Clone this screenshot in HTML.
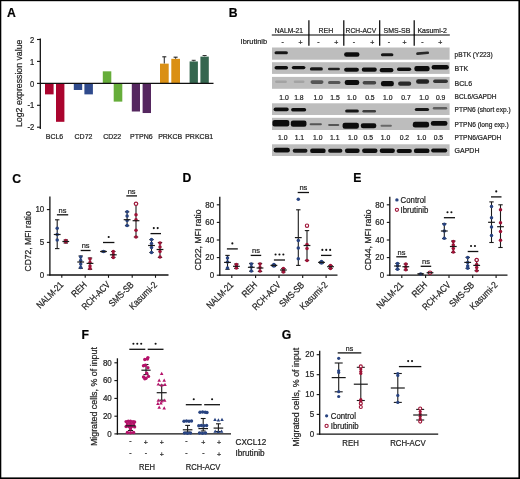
<!DOCTYPE html>
<html><head><meta charset="utf-8"><style>
html,body{margin:0;padding:0;background:#fff;}
svg{display:block;filter:blur(0.3px);}
text{font-family:"Liberation Sans", sans-serif;stroke:#222;stroke-width:0.22px;}
</style></head><body>
<svg width="520" height="479" viewBox="0 0 520 479" fill="#222">
<rect x="0" y="0" width="520" height="479" fill="#000"/>
<rect x="1.3" y="1.2" width="517.1" height="476.2" fill="#fff"/>
<text x="7.00" y="16.90" font-size="12.2" fill="#000" font-weight="bold">A</text>
<line x1="40.30" y1="38.50" x2="40.30" y2="129.00" stroke="#111" stroke-width="1.3"/>
<line x1="37.00" y1="39.50" x2="40.30" y2="39.50" stroke="#111" stroke-width="1.1"/>
<text x="34.20" y="42.60" font-size="8.21" text-anchor="end" textLength="4.23" lengthAdjust="spacingAndGlyphs">2</text>
<line x1="37.00" y1="61.40" x2="40.30" y2="61.40" stroke="#111" stroke-width="1.1"/>
<text x="34.20" y="64.50" font-size="8.21" text-anchor="end" textLength="4.23" lengthAdjust="spacingAndGlyphs">1</text>
<line x1="37.00" y1="83.40" x2="40.30" y2="83.40" stroke="#111" stroke-width="1.1"/>
<text x="34.20" y="86.50" font-size="8.21" text-anchor="end" textLength="4.23" lengthAdjust="spacingAndGlyphs">0</text>
<line x1="37.00" y1="105.30" x2="40.30" y2="105.30" stroke="#111" stroke-width="1.1"/>
<text x="34.20" y="108.40" font-size="8.21" text-anchor="end" textLength="6.76" lengthAdjust="spacingAndGlyphs">-1</text>
<line x1="37.00" y1="127.20" x2="40.30" y2="127.20" stroke="#111" stroke-width="1.1"/>
<text x="34.20" y="130.30" font-size="8.21" text-anchor="end" textLength="6.76" lengthAdjust="spacingAndGlyphs">-2</text>
<text x="21.70" y="83.30" font-size="9.5" text-anchor="middle" transform="rotate(-90 21.70 83.30)" textLength="87.3" lengthAdjust="spacingAndGlyphs">Log2 expression value</text>
<rect x="45.00" y="83.40" width="8.60" height="10.97" fill="#aa042e"/>
<rect x="56.00" y="83.40" width="8.40" height="38.41" fill="#aa042e"/>
<rect x="73.80" y="83.40" width="8.40" height="6.58" fill="#2f4a8c"/>
<rect x="84.40" y="83.40" width="8.50" height="10.97" fill="#2f4a8c"/>
<rect x="102.80" y="71.33" width="8.50" height="12.07" fill="#66ad3a"/>
<rect x="113.70" y="83.40" width="8.60" height="18.22" fill="#66ad3a"/>
<rect x="131.80" y="83.40" width="8.20" height="28.10" fill="#55275f"/>
<rect x="142.60" y="83.40" width="8.40" height="29.63" fill="#55275f"/>
<rect x="160.00" y="63.65" width="8.70" height="19.75" fill="#da9015"/>
<rect x="171.30" y="58.82" width="8.70" height="24.58" fill="#da9015"/>
<rect x="189.60" y="61.45" width="8.30" height="21.95" fill="#35664f"/>
<rect x="200.40" y="56.62" width="8.40" height="26.78" fill="#35664f"/>
<line x1="164.30" y1="63.50" x2="164.30" y2="56.80" stroke="#333" stroke-width="1.1"/>
<line x1="162.30" y1="56.80" x2="166.30" y2="56.80" stroke="#333" stroke-width="1.2"/>
<line x1="175.60" y1="58.70" x2="175.60" y2="57.00" stroke="#333" stroke-width="1.1"/>
<line x1="173.60" y1="57.20" x2="177.60" y2="57.20" stroke="#333" stroke-width="1.2"/>
<line x1="193.70" y1="61.20" x2="193.70" y2="60.20" stroke="#333" stroke-width="1.1"/>
<line x1="191.70" y1="60.30" x2="195.70" y2="60.30" stroke="#333" stroke-width="1.0"/>
<line x1="204.60" y1="56.30" x2="204.60" y2="55.40" stroke="#333" stroke-width="1.1"/>
<line x1="202.60" y1="55.50" x2="206.60" y2="55.50" stroke="#333" stroke-width="1.0"/>
<line x1="40.30" y1="83.40" x2="213.50" y2="83.40" stroke="#111" stroke-width="1.3"/>
<text x="54.50" y="139.30" font-size="7.56" text-anchor="middle" textLength="17.51" lengthAdjust="spacingAndGlyphs">BCL6</text>
<text x="83.50" y="139.30" font-size="7.56" text-anchor="middle" textLength="17.9" lengthAdjust="spacingAndGlyphs">CD72</text>
<text x="112.20" y="139.30" font-size="7.56" text-anchor="middle" textLength="17.9" lengthAdjust="spacingAndGlyphs">CD22</text>
<text x="141.30" y="139.30" font-size="7.56" text-anchor="middle" textLength="22.56" lengthAdjust="spacingAndGlyphs">PTPN6</text>
<text x="170.20" y="139.30" font-size="7.56" text-anchor="middle" textLength="24.12" lengthAdjust="spacingAndGlyphs">PRKCB</text>
<text x="199.20" y="139.30" font-size="7.56" text-anchor="middle" textLength="28.01" lengthAdjust="spacingAndGlyphs">PRKCB1</text>
<text x="228.70" y="16.90" font-size="12.2" fill="#000" font-weight="bold">B</text>
<line x1="271.80" y1="35.00" x2="449.80" y2="35.00" stroke="#000" stroke-width="1.2"/>
<line x1="308.90" y1="20.30" x2="308.90" y2="45.80" stroke="#000" stroke-width="1.2"/>
<line x1="343.80" y1="20.30" x2="343.80" y2="45.80" stroke="#000" stroke-width="1.2"/>
<line x1="379.70" y1="20.30" x2="379.70" y2="45.80" stroke="#000" stroke-width="1.2"/>
<line x1="414.20" y1="20.30" x2="414.20" y2="45.80" stroke="#000" stroke-width="1.2"/>
<text x="288.80" y="32.50" font-size="7.56" text-anchor="middle" textLength="28.2" lengthAdjust="spacingAndGlyphs">NALM-21</text>
<text x="325.80" y="32.50" font-size="7.56" text-anchor="middle" textLength="14.78" lengthAdjust="spacingAndGlyphs">REH</text>
<text x="360.90" y="32.50" font-size="7.56" text-anchor="middle" textLength="30.6" lengthAdjust="spacingAndGlyphs">RCH-ACV</text>
<text x="396.90" y="32.50" font-size="7.56" text-anchor="middle" textLength="26.84" lengthAdjust="spacingAndGlyphs">SMS-SB</text>
<text x="432.20" y="32.50" font-size="7.56" text-anchor="middle" textLength="29.57" lengthAdjust="spacingAndGlyphs">Kasumi-2</text>
<text x="240.60" y="43.90" font-size="7.88" textLength="26.6" lengthAdjust="spacingAndGlyphs">Ibrutinib</text>
<text x="282.60" y="44.10" font-size="7.56" text-anchor="middle" textLength="2.33" lengthAdjust="spacingAndGlyphs">-</text>
<text x="300.60" y="45.20" font-size="7.56" text-anchor="middle" textLength="4.09" lengthAdjust="spacingAndGlyphs">+</text>
<text x="318.30" y="44.10" font-size="7.56" text-anchor="middle" textLength="2.33" lengthAdjust="spacingAndGlyphs">-</text>
<text x="336.40" y="45.20" font-size="7.56" text-anchor="middle" textLength="4.09" lengthAdjust="spacingAndGlyphs">+</text>
<text x="353.80" y="44.10" font-size="7.56" text-anchor="middle" textLength="2.33" lengthAdjust="spacingAndGlyphs">-</text>
<text x="372.20" y="45.20" font-size="7.56" text-anchor="middle" textLength="4.09" lengthAdjust="spacingAndGlyphs">+</text>
<text x="388.80" y="44.10" font-size="7.56" text-anchor="middle" textLength="2.33" lengthAdjust="spacingAndGlyphs">-</text>
<text x="404.60" y="45.20" font-size="7.56" text-anchor="middle" textLength="4.09" lengthAdjust="spacingAndGlyphs">+</text>
<text x="422.50" y="44.10" font-size="7.56" text-anchor="middle" textLength="2.33" lengthAdjust="spacingAndGlyphs">-</text>
<text x="440.30" y="45.20" font-size="7.56" text-anchor="middle" textLength="4.09" lengthAdjust="spacingAndGlyphs">+</text>
<rect x="272.00" y="47.50" width="177.60" height="12.20" fill="#bdbdbd"/>
<rect x="272.00" y="62.20" width="177.60" height="11.70" fill="#bdbdbd"/>
<rect x="272.00" y="76.90" width="177.60" height="11.90" fill="#bdbdbd"/>
<rect x="272.00" y="103.30" width="177.60" height="11.70" fill="#bdbdbd"/>
<rect x="272.00" y="117.80" width="177.60" height="12.20" fill="#bdbdbd"/>
<rect x="272.00" y="144.30" width="177.60" height="11.70" fill="#bdbdbd"/>
<defs><filter id="bl" x="-20%" y="-100%" width="140%" height="300%"><feGaussianBlur stdDeviation="0.75"/></filter></defs>
<g filter="url(#bl)">
<rect x="274.5" y="51.25" width="13.4" height="3.1" rx="1.6" fill="rgb(25,25,25)"/>
<rect x="344.1" y="52.30" width="15.4" height="4.4" rx="2.2" fill="rgb(17,17,17)"/>
<rect x="380.9" y="53.25" width="12.5" height="3.1" rx="1.6" fill="rgb(25,25,25)"/>
<rect x="416.1" y="51.90" width="13.0" height="2.6" rx="1.3" fill="rgb(42,42,42)" transform="rotate(-5 422.6 53.2)"/>
<rect x="274.5" y="66.00" width="13.6" height="3.6" rx="1.8" fill="rgb(17,17,17)"/>
<rect x="291.8" y="65.90" width="13.6" height="3.4" rx="1.7" fill="rgb(17,17,17)"/>
<rect x="309.9" y="67.35" width="13.0" height="3.1" rx="1.6" fill="rgb(25,25,25)"/>
<rect x="328.0" y="67.70" width="11.9" height="2.6" rx="1.3" fill="rgb(34,34,34)"/>
<rect x="344.1" y="67.75" width="14.8" height="4.1" rx="2.0" fill="rgb(17,17,17)"/>
<rect x="361.8" y="67.55" width="15.0" height="4.1" rx="2.0" fill="rgb(17,17,17)"/>
<rect x="379.7" y="68.05" width="13.7" height="4.1" rx="2.0" fill="rgb(17,17,17)"/>
<rect x="397.0" y="67.40" width="14.2" height="3.6" rx="1.8" fill="rgb(17,17,17)"/>
<rect x="414.3" y="66.05" width="15.4" height="5.1" rx="2.2" fill="rgb(17,17,17)"/>
<rect x="431.6" y="64.90" width="17.3" height="4.6" rx="2.2" fill="rgb(17,17,17)"/>
<rect x="275.1" y="80.40" width="11.8" height="2.6" rx="1.3" fill="rgb(163,163,163)"/>
<rect x="293.7" y="80.40" width="10.8" height="2.6" rx="1.3" fill="rgb(163,163,163)"/>
<rect x="310.5" y="80.30" width="13.0" height="3.6" rx="1.8" fill="rgb(85,85,85)"/>
<rect x="328.0" y="80.95" width="12.5" height="3.1" rx="1.6" fill="rgb(85,85,85)"/>
<rect x="344.7" y="79.95" width="14.6" height="5.1" rx="2.2" fill="rgb(17,17,17)"/>
<rect x="362.6" y="81.00" width="13.6" height="3.6" rx="1.8" fill="rgb(68,68,68)"/>
<rect x="380.9" y="81.05" width="13.0" height="5.1" rx="2.2" fill="rgb(17,17,17)"/>
<rect x="398.1" y="81.55" width="13.1" height="4.1" rx="2.0" fill="rgb(42,42,42)"/>
<rect x="416.1" y="79.20" width="13.0" height="4.6" rx="2.2" fill="rgb(34,34,34)"/>
<rect x="433.1" y="79.50" width="14.8" height="3.6" rx="1.8" fill="rgb(51,51,51)"/>
<rect x="273.6" y="107.60" width="15.1" height="3.6" rx="1.8" fill="rgb(17,17,17)"/>
<rect x="291.1" y="108.10" width="15.1" height="3.4" rx="1.7" fill="rgb(17,17,17)"/>
<rect x="345.1" y="109.45" width="13.8" height="3.1" rx="1.6" fill="rgb(25,25,25)"/>
<rect x="362.4" y="110.00" width="13.6" height="2.6" rx="1.3" fill="rgb(60,60,60)"/>
<rect x="414.8" y="107.95" width="14.3" height="3.1" rx="1.6" fill="rgb(25,25,25)"/>
<rect x="432.8" y="107.00" width="14.4" height="2.4" rx="1.2" fill="rgb(94,94,94)"/>
<rect x="272.4" y="119.90" width="16.9" height="6.6" rx="2.2" fill="rgb(17,17,17)"/>
<rect x="290.8" y="120.55" width="15.7" height="6.1" rx="2.2" fill="rgb(17,17,17)"/>
<rect x="309.6" y="123.15" width="12.3" height="2.1" rx="1.1" fill="rgb(85,85,85)"/>
<rect x="328.1" y="123.95" width="11.2" height="2.1" rx="1.1" fill="rgb(85,85,85)"/>
<rect x="342.6" y="122.65" width="16.3" height="6.1" rx="2.2" fill="rgb(17,17,17)"/>
<rect x="360.8" y="123.15" width="15.5" height="5.1" rx="2.2" fill="rgb(17,17,17)"/>
<rect x="380.5" y="124.75" width="11.4" height="2.1" rx="1.1" fill="rgb(103,103,103)"/>
<rect x="412.8" y="121.80" width="16.3" height="5.6" rx="2.2" fill="rgb(17,17,17)"/>
<rect x="430.8" y="121.10" width="16.7" height="4.6" rx="2.2" fill="rgb(17,17,17)"/>
<rect x="273.6" y="147.80" width="16.3" height="4.6" rx="2.2" fill="rgb(17,17,17)"/>
<rect x="292.7" y="148.75" width="14.8" height="4.1" rx="2.0" fill="rgb(25,25,25)"/>
<rect x="310.1" y="148.50" width="15.6" height="4.6" rx="2.2" fill="rgb(17,17,17)"/>
<rect x="328.1" y="148.75" width="14.3" height="4.1" rx="2.0" fill="rgb(25,25,25)"/>
<rect x="344.9" y="148.60" width="14.8" height="4.4" rx="2.2" fill="rgb(17,17,17)"/>
<rect x="362.1" y="148.60" width="15.4" height="4.4" rx="2.2" fill="rgb(17,17,17)"/>
<rect x="379.7" y="148.60" width="15.2" height="4.4" rx="2.2" fill="rgb(17,17,17)"/>
<rect x="396.6" y="148.95" width="15.3" height="4.1" rx="2.0" fill="rgb(17,17,17)"/>
<rect x="413.9" y="148.50" width="15.6" height="4.6" rx="2.2" fill="rgb(17,17,17)"/>
<rect x="431.1" y="148.45" width="16.1" height="4.1" rx="2.0" fill="rgb(17,17,17)"/>
</g>
<text x="454.60" y="57.40" font-size="7.56" textLength="38.0" lengthAdjust="spacingAndGlyphs">pBTK (Y223)</text>
<text x="454.60" y="71.40" font-size="7.56" textLength="13.61" lengthAdjust="spacingAndGlyphs">BTK</text>
<text x="454.60" y="86.00" font-size="7.56" textLength="17.51" lengthAdjust="spacingAndGlyphs">BCL6</text>
<text x="454.60" y="98.90" font-size="7.56" textLength="42.0" lengthAdjust="spacingAndGlyphs">BCL6/GAPDH</text>
<text x="454.60" y="112.20" font-size="7.56" textLength="56.0" lengthAdjust="spacingAndGlyphs">PTPN6 (short exp.)</text>
<text x="454.60" y="126.90" font-size="7.56" textLength="54.2" lengthAdjust="spacingAndGlyphs">PTPN6 (long exp.)</text>
<text x="454.60" y="140.30" font-size="7.56" textLength="46.8" lengthAdjust="spacingAndGlyphs">PTPN6/GAPDH</text>
<text x="454.60" y="152.90" font-size="7.56" textLength="24.89" lengthAdjust="spacingAndGlyphs">GAPDH</text>
<text x="284.00" y="99.60" font-size="7.34" text-anchor="middle" textLength="9.45" lengthAdjust="spacingAndGlyphs">1.0</text>
<text x="298.90" y="99.60" font-size="7.34" text-anchor="middle" textLength="9.45" lengthAdjust="spacingAndGlyphs">1.8</text>
<text x="318.10" y="99.60" font-size="7.34" text-anchor="middle" textLength="9.45" lengthAdjust="spacingAndGlyphs">1.0</text>
<text x="335.00" y="99.60" font-size="7.34" text-anchor="middle" textLength="9.45" lengthAdjust="spacingAndGlyphs">1.5</text>
<text x="351.80" y="99.60" font-size="7.34" text-anchor="middle" textLength="9.45" lengthAdjust="spacingAndGlyphs">1.0</text>
<text x="369.90" y="99.60" font-size="7.34" text-anchor="middle" textLength="9.45" lengthAdjust="spacingAndGlyphs">0.5</text>
<text x="387.70" y="99.60" font-size="7.34" text-anchor="middle" textLength="9.45" lengthAdjust="spacingAndGlyphs">1.0</text>
<text x="406.00" y="99.60" font-size="7.34" text-anchor="middle" textLength="9.45" lengthAdjust="spacingAndGlyphs">0.7</text>
<text x="424.00" y="99.60" font-size="7.34" text-anchor="middle" textLength="9.45" lengthAdjust="spacingAndGlyphs">1.0</text>
<text x="440.60" y="99.60" font-size="7.34" text-anchor="middle" textLength="9.45" lengthAdjust="spacingAndGlyphs">0.9</text>
<text x="282.80" y="140.00" font-size="7.34" text-anchor="middle" textLength="9.45" lengthAdjust="spacingAndGlyphs">1.0</text>
<text x="299.40" y="140.00" font-size="7.34" text-anchor="middle" textLength="9.45" lengthAdjust="spacingAndGlyphs">1.1</text>
<text x="317.70" y="140.00" font-size="7.34" text-anchor="middle" textLength="9.45" lengthAdjust="spacingAndGlyphs">1.0</text>
<text x="334.80" y="140.00" font-size="7.34" text-anchor="middle" textLength="9.45" lengthAdjust="spacingAndGlyphs">1.1</text>
<text x="352.80" y="140.00" font-size="7.34" text-anchor="middle" textLength="9.45" lengthAdjust="spacingAndGlyphs">1.0</text>
<text x="368.20" y="140.00" font-size="7.34" text-anchor="middle" textLength="9.45" lengthAdjust="spacingAndGlyphs">0.5</text>
<text x="385.50" y="140.00" font-size="7.34" text-anchor="middle" textLength="9.45" lengthAdjust="spacingAndGlyphs">1.0</text>
<text x="404.40" y="140.00" font-size="7.34" text-anchor="middle" textLength="9.45" lengthAdjust="spacingAndGlyphs">0.2</text>
<text x="421.50" y="140.00" font-size="7.34" text-anchor="middle" textLength="9.45" lengthAdjust="spacingAndGlyphs">1.0</text>
<text x="438.40" y="140.00" font-size="7.34" text-anchor="middle" textLength="9.45" lengthAdjust="spacingAndGlyphs">0.5</text>
<text x="12.30" y="182.50" font-size="12.2" fill="#000" font-weight="bold">C</text>
<line x1="49.90" y1="196.50" x2="49.90" y2="275.60" stroke="#111" stroke-width="1.3"/>
<line x1="49.30" y1="275.00" x2="168.50" y2="275.00" stroke="#111" stroke-width="1.3"/>
<line x1="46.90" y1="275.00" x2="49.90" y2="275.00" stroke="#111" stroke-width="1.1"/>
<text x="44.30" y="277.70" font-size="8.64" text-anchor="end" textLength="4.45" lengthAdjust="spacingAndGlyphs">0</text>
<line x1="46.90" y1="242.40" x2="49.90" y2="242.40" stroke="#111" stroke-width="1.1"/>
<text x="44.30" y="245.10" font-size="8.64" text-anchor="end" textLength="4.45" lengthAdjust="spacingAndGlyphs">5</text>
<line x1="46.90" y1="209.60" x2="49.90" y2="209.60" stroke="#111" stroke-width="1.1"/>
<text x="44.30" y="212.30" font-size="8.64" text-anchor="end" textLength="8.9" lengthAdjust="spacingAndGlyphs">10</text>
<line x1="61.80" y1="275.00" x2="61.80" y2="277.80" stroke="#111" stroke-width="1.1"/>
<line x1="85.20" y1="275.00" x2="85.20" y2="277.80" stroke="#111" stroke-width="1.1"/>
<line x1="108.50" y1="275.00" x2="108.50" y2="277.80" stroke="#111" stroke-width="1.1"/>
<line x1="132.20" y1="275.00" x2="132.20" y2="277.80" stroke="#111" stroke-width="1.1"/>
<line x1="155.50" y1="275.00" x2="155.50" y2="277.80" stroke="#111" stroke-width="1.1"/>
<text x="30.70" y="241.40" font-size="9.5" text-anchor="middle" transform="rotate(-90 30.70 241.40)" textLength="60.2" lengthAdjust="spacingAndGlyphs">CD72, MFI ratio</text>
<text x="64.00" y="285.40" font-size="9.4" text-anchor="end" transform="rotate(-45 64.00 285.40)" textLength="33.5" lengthAdjust="spacingAndGlyphs">NALM-21</text>
<text x="87.40" y="285.40" font-size="9.4" text-anchor="end" transform="rotate(-45 87.40 285.40)" textLength="17.5" lengthAdjust="spacingAndGlyphs">REH</text>
<text x="110.70" y="285.40" font-size="9.4" text-anchor="end" transform="rotate(-45 110.70 285.40)" textLength="35.6" lengthAdjust="spacingAndGlyphs">RCH-ACV</text>
<text x="134.40" y="285.40" font-size="9.4" text-anchor="end" transform="rotate(-45 134.40 285.40)" textLength="30.9" lengthAdjust="spacingAndGlyphs">SMS-SB</text>
<text x="157.70" y="285.40" font-size="9.4" text-anchor="end" transform="rotate(-45 157.70 285.40)" textLength="35.0" lengthAdjust="spacingAndGlyphs">Kasumi-2</text>
<line x1="57.20" y1="219.80" x2="57.20" y2="248.60" stroke="#1a1a1a" stroke-width="1.1"/>
<line x1="55.00" y1="219.80" x2="59.40" y2="219.80" stroke="#1a1a1a" stroke-width="1.1"/>
<line x1="55.00" y1="248.60" x2="59.40" y2="248.60" stroke="#1a1a1a" stroke-width="1.1"/>
<circle cx="57.20" cy="228.30" r="1.75" fill="#284380"/>
<circle cx="57.20" cy="234.50" r="1.75" fill="#284380"/>
<circle cx="57.20" cy="239.90" r="1.75" fill="#284380"/>
<line x1="53.80" y1="234.50" x2="60.60" y2="234.50" stroke="#1a1a1a" stroke-width="1.2"/>
<line x1="65.80" y1="240.00" x2="65.80" y2="243.00" stroke="#1a1a1a" stroke-width="1.1"/>
<line x1="63.60" y1="240.00" x2="68.00" y2="240.00" stroke="#1a1a1a" stroke-width="1.1"/>
<line x1="63.60" y1="243.00" x2="68.00" y2="243.00" stroke="#1a1a1a" stroke-width="1.1"/>
<circle cx="65.80" cy="240.50" r="1.75" fill="#9e1236"/>
<circle cx="65.80" cy="242.00" r="1.75" fill="#9e1236"/>
<line x1="62.40" y1="241.50" x2="69.20" y2="241.50" stroke="#1a1a1a" stroke-width="1.2"/>
<line x1="80.70" y1="256.00" x2="80.70" y2="268.30" stroke="#1a1a1a" stroke-width="1.1"/>
<line x1="78.50" y1="256.00" x2="82.90" y2="256.00" stroke="#1a1a1a" stroke-width="1.1"/>
<line x1="78.50" y1="268.30" x2="82.90" y2="268.30" stroke="#1a1a1a" stroke-width="1.1"/>
<circle cx="80.70" cy="257.00" r="1.75" fill="#284380"/>
<circle cx="80.70" cy="260.50" r="1.75" fill="#284380"/>
<circle cx="80.70" cy="264.00" r="1.75" fill="#284380"/>
<circle cx="80.70" cy="267.50" r="1.75" fill="#284380"/>
<line x1="77.30" y1="262.00" x2="84.10" y2="262.00" stroke="#1a1a1a" stroke-width="1.2"/>
<line x1="90.00" y1="258.00" x2="90.00" y2="269.30" stroke="#1a1a1a" stroke-width="1.1"/>
<line x1="87.80" y1="258.00" x2="92.20" y2="258.00" stroke="#1a1a1a" stroke-width="1.1"/>
<line x1="87.80" y1="269.30" x2="92.20" y2="269.30" stroke="#1a1a1a" stroke-width="1.1"/>
<circle cx="90.00" cy="259.00" r="1.75" fill="#9e1236"/>
<circle cx="90.00" cy="262.50" r="1.75" fill="#9e1236"/>
<circle cx="90.00" cy="266.00" r="1.75" fill="#9e1236"/>
<circle cx="90.00" cy="268.50" r="1.75" fill="#9e1236"/>
<line x1="86.60" y1="263.40" x2="93.40" y2="263.40" stroke="#1a1a1a" stroke-width="1.2"/>
<line x1="103.50" y1="251.00" x2="103.50" y2="252.00" stroke="#1a1a1a" stroke-width="1.1"/>
<line x1="101.30" y1="251.00" x2="105.70" y2="251.00" stroke="#1a1a1a" stroke-width="1.1"/>
<line x1="101.30" y1="252.00" x2="105.70" y2="252.00" stroke="#1a1a1a" stroke-width="1.1"/>
<circle cx="103.50" cy="251.50" r="1.75" fill="#284380"/>
<line x1="100.10" y1="251.50" x2="106.90" y2="251.50" stroke="#1a1a1a" stroke-width="1.2"/>
<line x1="113.30" y1="251.50" x2="113.30" y2="257.40" stroke="#1a1a1a" stroke-width="1.1"/>
<line x1="111.10" y1="251.50" x2="115.50" y2="251.50" stroke="#1a1a1a" stroke-width="1.1"/>
<line x1="111.10" y1="257.40" x2="115.50" y2="257.40" stroke="#1a1a1a" stroke-width="1.1"/>
<circle cx="113.30" cy="251.50" r="1.75" fill="#9e1236"/>
<circle cx="113.30" cy="254.50" r="1.75" fill="#9e1236"/>
<circle cx="113.30" cy="257.40" r="1.75" fill="#9e1236"/>
<line x1="109.90" y1="254.80" x2="116.70" y2="254.80" stroke="#1a1a1a" stroke-width="1.2"/>
<line x1="127.10" y1="211.80" x2="127.10" y2="225.70" stroke="#1a1a1a" stroke-width="1.1"/>
<line x1="124.90" y1="211.80" x2="129.30" y2="211.80" stroke="#1a1a1a" stroke-width="1.1"/>
<line x1="124.90" y1="225.70" x2="129.30" y2="225.70" stroke="#1a1a1a" stroke-width="1.1"/>
<circle cx="127.10" cy="211.80" r="1.75" fill="#284380"/>
<circle cx="127.10" cy="216.00" r="1.75" fill="#284380"/>
<circle cx="127.10" cy="220.50" r="1.75" fill="#284380"/>
<circle cx="127.10" cy="225.50" r="1.75" fill="#284380"/>
<line x1="123.70" y1="219.70" x2="130.50" y2="219.70" stroke="#1a1a1a" stroke-width="1.2"/>
<line x1="136.00" y1="203.80" x2="136.00" y2="237.00" stroke="#1a1a1a" stroke-width="1.1"/>
<line x1="133.80" y1="203.80" x2="138.20" y2="203.80" stroke="#1a1a1a" stroke-width="1.1"/>
<line x1="133.80" y1="237.00" x2="138.20" y2="237.00" stroke="#1a1a1a" stroke-width="1.1"/>
<circle cx="136.00" cy="214.80" r="1.75" fill="#9e1236"/>
<circle cx="136.00" cy="219.70" r="1.75" fill="#9e1236"/>
<circle cx="136.00" cy="230.20" r="1.75" fill="#9e1236"/>
<circle cx="136.00" cy="237.00" r="1.75" fill="#9e1236"/>
<circle cx="136.00" cy="203.80" r="1.6624999999999999" fill="#fff" stroke="#9e1236" stroke-width="1.1"/>
<line x1="132.60" y1="220.70" x2="139.40" y2="220.70" stroke="#1a1a1a" stroke-width="1.2"/>
<line x1="151.50" y1="239.60" x2="151.50" y2="252.50" stroke="#1a1a1a" stroke-width="1.1"/>
<line x1="149.30" y1="239.60" x2="153.70" y2="239.60" stroke="#1a1a1a" stroke-width="1.1"/>
<line x1="149.30" y1="252.50" x2="153.70" y2="252.50" stroke="#1a1a1a" stroke-width="1.1"/>
<circle cx="151.50" cy="239.60" r="1.75" fill="#284380"/>
<circle cx="151.50" cy="243.50" r="1.75" fill="#284380"/>
<circle cx="151.50" cy="247.50" r="1.75" fill="#284380"/>
<circle cx="151.50" cy="252.50" r="1.75" fill="#284380"/>
<line x1="148.10" y1="245.50" x2="154.90" y2="245.50" stroke="#1a1a1a" stroke-width="1.2"/>
<line x1="160.00" y1="242.50" x2="160.00" y2="257.40" stroke="#1a1a1a" stroke-width="1.1"/>
<line x1="157.80" y1="242.50" x2="162.20" y2="242.50" stroke="#1a1a1a" stroke-width="1.1"/>
<line x1="157.80" y1="257.40" x2="162.20" y2="257.40" stroke="#1a1a1a" stroke-width="1.1"/>
<circle cx="160.00" cy="243.00" r="1.75" fill="#9e1236"/>
<circle cx="160.00" cy="247.00" r="1.75" fill="#9e1236"/>
<circle cx="160.00" cy="251.50" r="1.75" fill="#9e1236"/>
<circle cx="160.00" cy="257.00" r="1.75" fill="#9e1236"/>
<line x1="156.60" y1="249.50" x2="163.40" y2="249.50" stroke="#1a1a1a" stroke-width="1.2"/>
<line x1="56.90" y1="214.80" x2="68.20" y2="214.80" stroke="#111" stroke-width="1.3"/>
<text x="62.55" y="212.60" font-size="8.1" text-anchor="middle" textLength="7.92" lengthAdjust="spacingAndGlyphs">ns</text>
<line x1="80.70" y1="250.50" x2="90.60" y2="250.50" stroke="#111" stroke-width="1.3"/>
<text x="85.65" y="248.30" font-size="8.1" text-anchor="middle" textLength="7.92" lengthAdjust="spacingAndGlyphs">ns</text>
<line x1="103.00" y1="242.50" x2="114.40" y2="242.50" stroke="#111" stroke-width="1.3"/>
<circle cx="108.70" cy="237.00" r="1.05" fill="#111"/>
<line x1="126.30" y1="195.90" x2="137.00" y2="195.90" stroke="#111" stroke-width="1.3"/>
<text x="131.65" y="193.70" font-size="8.1" text-anchor="middle" textLength="7.92" lengthAdjust="spacingAndGlyphs">ns</text>
<line x1="150.50" y1="233.60" x2="161.00" y2="233.60" stroke="#111" stroke-width="1.3"/>
<circle cx="153.80" cy="228.10" r="1.05" fill="#111"/>
<circle cx="157.70" cy="228.10" r="1.05" fill="#111"/>
<text x="182.50" y="182.00" font-size="12.2" fill="#000" font-weight="bold">D</text>
<line x1="219.80" y1="196.80" x2="219.80" y2="275.80" stroke="#111" stroke-width="1.3"/>
<line x1="219.20" y1="275.20" x2="337.50" y2="275.20" stroke="#111" stroke-width="1.3"/>
<line x1="216.80" y1="275.20" x2="219.80" y2="275.20" stroke="#111" stroke-width="1.1"/>
<text x="214.20" y="277.90" font-size="8.64" text-anchor="end" textLength="4.45" lengthAdjust="spacingAndGlyphs">0</text>
<line x1="216.80" y1="257.60" x2="219.80" y2="257.60" stroke="#111" stroke-width="1.1"/>
<text x="214.20" y="260.30" font-size="8.64" text-anchor="end" textLength="8.9" lengthAdjust="spacingAndGlyphs">20</text>
<line x1="216.80" y1="240.00" x2="219.80" y2="240.00" stroke="#111" stroke-width="1.1"/>
<text x="214.20" y="242.70" font-size="8.64" text-anchor="end" textLength="8.9" lengthAdjust="spacingAndGlyphs">40</text>
<line x1="216.80" y1="222.40" x2="219.80" y2="222.40" stroke="#111" stroke-width="1.1"/>
<text x="214.20" y="225.10" font-size="8.64" text-anchor="end" textLength="8.9" lengthAdjust="spacingAndGlyphs">60</text>
<line x1="216.80" y1="204.80" x2="219.80" y2="204.80" stroke="#111" stroke-width="1.1"/>
<text x="214.20" y="207.50" font-size="8.64" text-anchor="end" textLength="8.9" lengthAdjust="spacingAndGlyphs">80</text>
<line x1="231.80" y1="275.20" x2="231.80" y2="278.00" stroke="#111" stroke-width="1.1"/>
<line x1="255.60" y1="275.20" x2="255.60" y2="278.00" stroke="#111" stroke-width="1.1"/>
<line x1="279.00" y1="275.20" x2="279.00" y2="278.00" stroke="#111" stroke-width="1.1"/>
<line x1="302.70" y1="275.20" x2="302.70" y2="278.00" stroke="#111" stroke-width="1.1"/>
<line x1="326.10" y1="275.20" x2="326.10" y2="278.00" stroke="#111" stroke-width="1.1"/>
<text x="200.60" y="240.00" font-size="9.5" text-anchor="middle" transform="rotate(-90 200.60 240.00)" textLength="61.2" lengthAdjust="spacingAndGlyphs">CD22, MFI ratio</text>
<text x="234.00" y="285.60" font-size="9.4" text-anchor="end" transform="rotate(-45 234.00 285.60)" textLength="33.5" lengthAdjust="spacingAndGlyphs">NALM-21</text>
<text x="257.80" y="285.60" font-size="9.4" text-anchor="end" transform="rotate(-45 257.80 285.60)" textLength="17.5" lengthAdjust="spacingAndGlyphs">REH</text>
<text x="281.20" y="285.60" font-size="9.4" text-anchor="end" transform="rotate(-45 281.20 285.60)" textLength="35.6" lengthAdjust="spacingAndGlyphs">RCH-ACV</text>
<text x="304.90" y="285.60" font-size="9.4" text-anchor="end" transform="rotate(-45 304.90 285.60)" textLength="30.9" lengthAdjust="spacingAndGlyphs">SMS-SB</text>
<text x="328.30" y="285.60" font-size="9.4" text-anchor="end" transform="rotate(-45 328.30 285.60)" textLength="35.0" lengthAdjust="spacingAndGlyphs">Kasumi-2</text>
<line x1="227.50" y1="255.40" x2="227.50" y2="269.30" stroke="#1a1a1a" stroke-width="1.1"/>
<line x1="225.30" y1="255.40" x2="229.70" y2="255.40" stroke="#1a1a1a" stroke-width="1.1"/>
<line x1="225.30" y1="269.30" x2="229.70" y2="269.30" stroke="#1a1a1a" stroke-width="1.1"/>
<circle cx="227.50" cy="258.00" r="1.75" fill="#284380"/>
<circle cx="227.50" cy="262.00" r="1.75" fill="#284380"/>
<circle cx="227.50" cy="268.00" r="1.75" fill="#284380"/>
<line x1="224.10" y1="262.40" x2="230.90" y2="262.40" stroke="#1a1a1a" stroke-width="1.2"/>
<line x1="236.40" y1="264.00" x2="236.40" y2="268.50" stroke="#1a1a1a" stroke-width="1.1"/>
<line x1="234.20" y1="264.00" x2="238.60" y2="264.00" stroke="#1a1a1a" stroke-width="1.1"/>
<line x1="234.20" y1="268.50" x2="238.60" y2="268.50" stroke="#1a1a1a" stroke-width="1.1"/>
<circle cx="236.40" cy="264.50" r="1.75" fill="#9e1236"/>
<circle cx="236.40" cy="266.50" r="1.75" fill="#9e1236"/>
<circle cx="236.40" cy="268.00" r="1.75" fill="#9e1236"/>
<line x1="233.00" y1="266.30" x2="239.80" y2="266.30" stroke="#1a1a1a" stroke-width="1.2"/>
<line x1="251.30" y1="263.40" x2="251.30" y2="271.30" stroke="#1a1a1a" stroke-width="1.1"/>
<line x1="249.10" y1="263.40" x2="253.50" y2="263.40" stroke="#1a1a1a" stroke-width="1.1"/>
<line x1="249.10" y1="271.30" x2="253.50" y2="271.30" stroke="#1a1a1a" stroke-width="1.1"/>
<circle cx="251.30" cy="264.00" r="1.75" fill="#284380"/>
<circle cx="251.30" cy="267.00" r="1.75" fill="#284380"/>
<circle cx="251.30" cy="271.00" r="1.75" fill="#284380"/>
<line x1="247.90" y1="267.30" x2="254.70" y2="267.30" stroke="#1a1a1a" stroke-width="1.2"/>
<line x1="260.00" y1="263.40" x2="260.00" y2="271.50" stroke="#1a1a1a" stroke-width="1.1"/>
<line x1="257.80" y1="263.40" x2="262.20" y2="263.40" stroke="#1a1a1a" stroke-width="1.1"/>
<line x1="257.80" y1="271.50" x2="262.20" y2="271.50" stroke="#1a1a1a" stroke-width="1.1"/>
<circle cx="260.00" cy="264.00" r="1.75" fill="#9e1236"/>
<circle cx="260.00" cy="267.50" r="1.75" fill="#9e1236"/>
<circle cx="260.00" cy="271.00" r="1.75" fill="#9e1236"/>
<line x1="256.60" y1="268.00" x2="263.40" y2="268.00" stroke="#1a1a1a" stroke-width="1.2"/>
<line x1="273.90" y1="264.50" x2="273.90" y2="266.50" stroke="#1a1a1a" stroke-width="1.1"/>
<line x1="271.70" y1="264.50" x2="276.10" y2="264.50" stroke="#1a1a1a" stroke-width="1.1"/>
<line x1="271.70" y1="266.50" x2="276.10" y2="266.50" stroke="#1a1a1a" stroke-width="1.1"/>
<circle cx="273.90" cy="264.50" r="1.75" fill="#284380"/>
<circle cx="273.90" cy="266.00" r="1.75" fill="#284380"/>
<line x1="270.50" y1="265.40" x2="277.30" y2="265.40" stroke="#1a1a1a" stroke-width="1.2"/>
<line x1="283.40" y1="268.50" x2="283.40" y2="272.00" stroke="#1a1a1a" stroke-width="1.1"/>
<line x1="281.20" y1="268.50" x2="285.60" y2="268.50" stroke="#1a1a1a" stroke-width="1.1"/>
<line x1="281.20" y1="272.00" x2="285.60" y2="272.00" stroke="#1a1a1a" stroke-width="1.1"/>
<circle cx="283.40" cy="268.50" r="1.75" fill="#9e1236"/>
<circle cx="283.40" cy="270.50" r="1.75" fill="#9e1236"/>
<circle cx="283.40" cy="272.00" r="1.75" fill="#9e1236"/>
<line x1="280.00" y1="270.00" x2="286.80" y2="270.00" stroke="#1a1a1a" stroke-width="1.2"/>
<line x1="298.30" y1="209.80" x2="298.30" y2="265.40" stroke="#1a1a1a" stroke-width="1.1"/>
<line x1="296.10" y1="209.80" x2="300.50" y2="209.80" stroke="#1a1a1a" stroke-width="1.1"/>
<line x1="296.10" y1="265.40" x2="300.50" y2="265.40" stroke="#1a1a1a" stroke-width="1.1"/>
<circle cx="298.30" cy="199.30" r="1.75" fill="#284380"/>
<circle cx="298.30" cy="240.60" r="1.75" fill="#284380"/>
<circle cx="298.30" cy="248.10" r="1.75" fill="#284380"/>
<circle cx="298.30" cy="258.80" r="1.75" fill="#284380"/>
<line x1="294.90" y1="237.60" x2="301.70" y2="237.60" stroke="#1a1a1a" stroke-width="1.2"/>
<line x1="307.00" y1="230.60" x2="307.00" y2="260.40" stroke="#1a1a1a" stroke-width="1.1"/>
<line x1="304.80" y1="230.60" x2="309.20" y2="230.60" stroke="#1a1a1a" stroke-width="1.1"/>
<line x1="304.80" y1="260.40" x2="309.20" y2="260.40" stroke="#1a1a1a" stroke-width="1.1"/>
<circle cx="307.00" cy="244.50" r="1.75" fill="#9e1236"/>
<circle cx="307.00" cy="248.50" r="1.75" fill="#9e1236"/>
<circle cx="307.00" cy="260.40" r="1.75" fill="#9e1236"/>
<circle cx="307.00" cy="225.70" r="1.6624999999999999" fill="#fff" stroke="#9e1236" stroke-width="1.1"/>
<line x1="303.60" y1="245.50" x2="310.40" y2="245.50" stroke="#1a1a1a" stroke-width="1.2"/>
<line x1="321.50" y1="261.50" x2="321.50" y2="263.50" stroke="#1a1a1a" stroke-width="1.1"/>
<line x1="319.30" y1="261.50" x2="323.70" y2="261.50" stroke="#1a1a1a" stroke-width="1.1"/>
<line x1="319.30" y1="263.50" x2="323.70" y2="263.50" stroke="#1a1a1a" stroke-width="1.1"/>
<circle cx="321.50" cy="261.50" r="1.75" fill="#284380"/>
<circle cx="321.50" cy="263.00" r="1.75" fill="#284380"/>
<line x1="318.10" y1="262.40" x2="324.90" y2="262.40" stroke="#1a1a1a" stroke-width="1.2"/>
<line x1="330.50" y1="265.50" x2="330.50" y2="268.50" stroke="#1a1a1a" stroke-width="1.1"/>
<line x1="328.30" y1="265.50" x2="332.70" y2="265.50" stroke="#1a1a1a" stroke-width="1.1"/>
<line x1="328.30" y1="268.50" x2="332.70" y2="268.50" stroke="#1a1a1a" stroke-width="1.1"/>
<circle cx="330.50" cy="265.50" r="1.75" fill="#9e1236"/>
<circle cx="330.50" cy="267.00" r="1.75" fill="#9e1236"/>
<circle cx="330.50" cy="268.50" r="1.75" fill="#9e1236"/>
<line x1="327.10" y1="266.70" x2="333.90" y2="266.70" stroke="#1a1a1a" stroke-width="1.2"/>
<line x1="226.90" y1="248.90" x2="237.80" y2="248.90" stroke="#111" stroke-width="1.3"/>
<circle cx="232.35" cy="243.40" r="1.05" fill="#111"/>
<line x1="250.70" y1="255.40" x2="261.20" y2="255.40" stroke="#111" stroke-width="1.3"/>
<text x="255.95" y="253.20" font-size="8.1" text-anchor="middle" textLength="7.92" lengthAdjust="spacingAndGlyphs">ns</text>
<line x1="273.90" y1="260.00" x2="285.00" y2="260.00" stroke="#111" stroke-width="1.3"/>
<circle cx="275.55" cy="254.50" r="1.05" fill="#111"/>
<circle cx="279.45" cy="254.50" r="1.05" fill="#111"/>
<circle cx="283.35" cy="254.50" r="1.05" fill="#111"/>
<line x1="297.70" y1="192.50" x2="309.00" y2="192.50" stroke="#111" stroke-width="1.3"/>
<text x="303.35" y="190.30" font-size="8.1" text-anchor="middle" textLength="7.92" lengthAdjust="spacingAndGlyphs">ns</text>
<line x1="321.00" y1="255.40" x2="331.50" y2="255.40" stroke="#111" stroke-width="1.3"/>
<circle cx="322.35" cy="249.90" r="1.05" fill="#111"/>
<circle cx="326.25" cy="249.90" r="1.05" fill="#111"/>
<circle cx="330.15" cy="249.90" r="1.05" fill="#111"/>
<text x="353.30" y="182.00" font-size="12.2" fill="#000" font-weight="bold">E</text>
<line x1="389.80" y1="196.80" x2="389.80" y2="275.80" stroke="#111" stroke-width="1.3"/>
<line x1="389.20" y1="275.20" x2="507.50" y2="275.20" stroke="#111" stroke-width="1.3"/>
<line x1="386.80" y1="275.20" x2="389.80" y2="275.20" stroke="#111" stroke-width="1.1"/>
<text x="384.20" y="277.90" font-size="8.64" text-anchor="end" textLength="4.45" lengthAdjust="spacingAndGlyphs">0</text>
<line x1="386.80" y1="257.60" x2="389.80" y2="257.60" stroke="#111" stroke-width="1.1"/>
<text x="384.20" y="260.30" font-size="8.64" text-anchor="end" textLength="8.9" lengthAdjust="spacingAndGlyphs">20</text>
<line x1="386.80" y1="240.00" x2="389.80" y2="240.00" stroke="#111" stroke-width="1.1"/>
<text x="384.20" y="242.70" font-size="8.64" text-anchor="end" textLength="8.9" lengthAdjust="spacingAndGlyphs">40</text>
<line x1="386.80" y1="222.40" x2="389.80" y2="222.40" stroke="#111" stroke-width="1.1"/>
<text x="384.20" y="225.10" font-size="8.64" text-anchor="end" textLength="8.9" lengthAdjust="spacingAndGlyphs">60</text>
<line x1="386.80" y1="204.80" x2="389.80" y2="204.80" stroke="#111" stroke-width="1.1"/>
<text x="384.20" y="207.50" font-size="8.64" text-anchor="end" textLength="8.9" lengthAdjust="spacingAndGlyphs">80</text>
<line x1="401.80" y1="275.20" x2="401.80" y2="278.00" stroke="#111" stroke-width="1.1"/>
<line x1="425.60" y1="275.20" x2="425.60" y2="278.00" stroke="#111" stroke-width="1.1"/>
<line x1="449.00" y1="275.20" x2="449.00" y2="278.00" stroke="#111" stroke-width="1.1"/>
<line x1="472.70" y1="275.20" x2="472.70" y2="278.00" stroke="#111" stroke-width="1.1"/>
<line x1="496.10" y1="275.20" x2="496.10" y2="278.00" stroke="#111" stroke-width="1.1"/>
<text x="370.60" y="240.00" font-size="9.5" text-anchor="middle" transform="rotate(-90 370.60 240.00)" textLength="61.2" lengthAdjust="spacingAndGlyphs">CD44, MFI ratio</text>
<text x="404.00" y="285.60" font-size="9.4" text-anchor="end" transform="rotate(-45 404.00 285.60)" textLength="33.5" lengthAdjust="spacingAndGlyphs">NALM-21</text>
<text x="427.80" y="285.60" font-size="9.4" text-anchor="end" transform="rotate(-45 427.80 285.60)" textLength="17.5" lengthAdjust="spacingAndGlyphs">REH</text>
<text x="451.20" y="285.60" font-size="9.4" text-anchor="end" transform="rotate(-45 451.20 285.60)" textLength="35.6" lengthAdjust="spacingAndGlyphs">RCH-ACV</text>
<text x="474.90" y="285.60" font-size="9.4" text-anchor="end" transform="rotate(-45 474.90 285.60)" textLength="30.9" lengthAdjust="spacingAndGlyphs">SMS-SB</text>
<text x="498.30" y="285.60" font-size="9.4" text-anchor="end" transform="rotate(-45 498.30 285.60)" textLength="35.0" lengthAdjust="spacingAndGlyphs">Kasumi-2</text>
<line x1="397.50" y1="263.40" x2="397.50" y2="269.30" stroke="#1a1a1a" stroke-width="1.1"/>
<line x1="395.30" y1="263.40" x2="399.70" y2="263.40" stroke="#1a1a1a" stroke-width="1.1"/>
<line x1="395.30" y1="269.30" x2="399.70" y2="269.30" stroke="#1a1a1a" stroke-width="1.1"/>
<circle cx="397.50" cy="263.40" r="1.75" fill="#284380"/>
<circle cx="397.50" cy="266.00" r="1.75" fill="#284380"/>
<circle cx="397.50" cy="269.30" r="1.75" fill="#284380"/>
<line x1="394.10" y1="266.00" x2="400.90" y2="266.00" stroke="#1a1a1a" stroke-width="1.2"/>
<line x1="405.80" y1="264.00" x2="405.80" y2="270.00" stroke="#1a1a1a" stroke-width="1.1"/>
<line x1="403.60" y1="264.00" x2="408.00" y2="264.00" stroke="#1a1a1a" stroke-width="1.1"/>
<line x1="403.60" y1="270.00" x2="408.00" y2="270.00" stroke="#1a1a1a" stroke-width="1.1"/>
<circle cx="405.80" cy="264.00" r="1.75" fill="#9e1236"/>
<circle cx="405.80" cy="267.00" r="1.75" fill="#9e1236"/>
<circle cx="405.80" cy="269.80" r="1.75" fill="#9e1236"/>
<line x1="402.40" y1="266.70" x2="409.20" y2="266.70" stroke="#1a1a1a" stroke-width="1.2"/>
<line x1="420.70" y1="273.50" x2="420.70" y2="274.50" stroke="#1a1a1a" stroke-width="1.1"/>
<line x1="418.50" y1="273.50" x2="422.90" y2="273.50" stroke="#1a1a1a" stroke-width="1.1"/>
<line x1="418.50" y1="274.50" x2="422.90" y2="274.50" stroke="#1a1a1a" stroke-width="1.1"/>
<circle cx="420.70" cy="273.90" r="1.75" fill="#284380"/>
<line x1="417.30" y1="273.90" x2="424.10" y2="273.90" stroke="#1a1a1a" stroke-width="1.2"/>
<line x1="430.00" y1="272.00" x2="430.00" y2="273.50" stroke="#1a1a1a" stroke-width="1.1"/>
<line x1="427.80" y1="272.00" x2="432.20" y2="272.00" stroke="#1a1a1a" stroke-width="1.1"/>
<line x1="427.80" y1="273.50" x2="432.20" y2="273.50" stroke="#1a1a1a" stroke-width="1.1"/>
<circle cx="430.00" cy="272.70" r="1.75" fill="#9e1236"/>
<circle cx="430.00" cy="272.70" r="1.6624999999999999" fill="#fff" stroke="#9e1236" stroke-width="1.1"/>
<line x1="426.60" y1="272.70" x2="433.40" y2="272.70" stroke="#1a1a1a" stroke-width="1.2"/>
<line x1="444.30" y1="223.70" x2="444.30" y2="238.60" stroke="#1a1a1a" stroke-width="1.1"/>
<line x1="442.10" y1="223.70" x2="446.50" y2="223.70" stroke="#1a1a1a" stroke-width="1.1"/>
<line x1="442.10" y1="238.60" x2="446.50" y2="238.60" stroke="#1a1a1a" stroke-width="1.1"/>
<circle cx="444.30" cy="224.30" r="1.75" fill="#284380"/>
<circle cx="444.30" cy="231.00" r="1.75" fill="#284380"/>
<circle cx="444.30" cy="238.20" r="1.75" fill="#284380"/>
<line x1="440.90" y1="231.00" x2="447.70" y2="231.00" stroke="#1a1a1a" stroke-width="1.2"/>
<line x1="453.30" y1="241.00" x2="453.30" y2="252.50" stroke="#1a1a1a" stroke-width="1.1"/>
<line x1="451.10" y1="241.00" x2="455.50" y2="241.00" stroke="#1a1a1a" stroke-width="1.1"/>
<line x1="451.10" y1="252.50" x2="455.50" y2="252.50" stroke="#1a1a1a" stroke-width="1.1"/>
<circle cx="453.30" cy="241.50" r="1.75" fill="#9e1236"/>
<circle cx="453.30" cy="245.00" r="1.75" fill="#9e1236"/>
<circle cx="453.30" cy="248.50" r="1.75" fill="#9e1236"/>
<circle cx="453.30" cy="252.00" r="1.75" fill="#9e1236"/>
<line x1="449.90" y1="246.50" x2="456.70" y2="246.50" stroke="#1a1a1a" stroke-width="1.2"/>
<line x1="467.70" y1="257.40" x2="467.70" y2="268.30" stroke="#1a1a1a" stroke-width="1.1"/>
<line x1="465.50" y1="257.40" x2="469.90" y2="257.40" stroke="#1a1a1a" stroke-width="1.1"/>
<line x1="465.50" y1="268.30" x2="469.90" y2="268.30" stroke="#1a1a1a" stroke-width="1.1"/>
<circle cx="467.70" cy="257.40" r="1.75" fill="#284380"/>
<circle cx="467.70" cy="262.40" r="1.75" fill="#284380"/>
<circle cx="467.70" cy="266.00" r="1.75" fill="#284380"/>
<circle cx="467.70" cy="268.30" r="1.75" fill="#284380"/>
<line x1="464.30" y1="262.40" x2="471.10" y2="262.40" stroke="#1a1a1a" stroke-width="1.2"/>
<line x1="476.70" y1="260.00" x2="476.70" y2="270.70" stroke="#1a1a1a" stroke-width="1.1"/>
<line x1="474.50" y1="260.00" x2="478.90" y2="260.00" stroke="#1a1a1a" stroke-width="1.1"/>
<line x1="474.50" y1="270.70" x2="478.90" y2="270.70" stroke="#1a1a1a" stroke-width="1.1"/>
<circle cx="476.70" cy="264.50" r="1.75" fill="#9e1236"/>
<circle cx="476.70" cy="267.50" r="1.75" fill="#9e1236"/>
<circle cx="476.70" cy="270.70" r="1.75" fill="#9e1236"/>
<circle cx="476.70" cy="260.00" r="1.6624999999999999" fill="#fff" stroke="#9e1236" stroke-width="1.1"/>
<line x1="473.30" y1="265.40" x2="480.10" y2="265.40" stroke="#1a1a1a" stroke-width="1.2"/>
<line x1="491.50" y1="201.90" x2="491.50" y2="242.50" stroke="#1a1a1a" stroke-width="1.1"/>
<line x1="489.30" y1="201.90" x2="493.70" y2="201.90" stroke="#1a1a1a" stroke-width="1.1"/>
<line x1="489.30" y1="242.50" x2="493.70" y2="242.50" stroke="#1a1a1a" stroke-width="1.1"/>
<circle cx="491.50" cy="206.40" r="1.75" fill="#284380"/>
<circle cx="491.50" cy="217.70" r="1.75" fill="#284380"/>
<circle cx="491.50" cy="227.00" r="1.75" fill="#284380"/>
<circle cx="491.50" cy="235.60" r="1.75" fill="#284380"/>
<line x1="488.10" y1="222.30" x2="494.90" y2="222.30" stroke="#1a1a1a" stroke-width="1.2"/>
<line x1="500.50" y1="204.80" x2="500.50" y2="247.50" stroke="#1a1a1a" stroke-width="1.1"/>
<line x1="498.30" y1="204.80" x2="502.70" y2="204.80" stroke="#1a1a1a" stroke-width="1.1"/>
<line x1="498.30" y1="247.50" x2="502.70" y2="247.50" stroke="#1a1a1a" stroke-width="1.1"/>
<circle cx="500.50" cy="209.80" r="1.75" fill="#9e1236"/>
<circle cx="500.50" cy="222.70" r="1.75" fill="#9e1236"/>
<circle cx="500.50" cy="231.60" r="1.75" fill="#9e1236"/>
<circle cx="500.50" cy="240.20" r="1.75" fill="#9e1236"/>
<line x1="497.10" y1="226.70" x2="503.90" y2="226.70" stroke="#1a1a1a" stroke-width="1.2"/>
<line x1="396.30" y1="256.80" x2="406.80" y2="256.80" stroke="#111" stroke-width="1.3"/>
<text x="401.55" y="254.60" font-size="8.1" text-anchor="middle" textLength="7.92" lengthAdjust="spacingAndGlyphs">ns</text>
<line x1="420.70" y1="266.30" x2="431.20" y2="266.30" stroke="#111" stroke-width="1.3"/>
<text x="425.95" y="264.10" font-size="8.1" text-anchor="middle" textLength="7.92" lengthAdjust="spacingAndGlyphs">ns</text>
<line x1="443.90" y1="217.70" x2="455.00" y2="217.70" stroke="#111" stroke-width="1.3"/>
<circle cx="447.50" cy="212.20" r="1.05" fill="#111"/>
<circle cx="451.40" cy="212.20" r="1.05" fill="#111"/>
<line x1="467.70" y1="251.50" x2="478.30" y2="251.50" stroke="#111" stroke-width="1.3"/>
<circle cx="471.05" cy="246.00" r="1.05" fill="#111"/>
<circle cx="474.95" cy="246.00" r="1.05" fill="#111"/>
<line x1="491.00" y1="196.90" x2="501.50" y2="196.90" stroke="#111" stroke-width="1.3"/>
<circle cx="496.25" cy="191.40" r="1.05" fill="#111"/>
<circle cx="396.90" cy="199.90" r="1.7" fill="#284380"/>
<text x="400.60" y="202.90" font-size="8.42" textLength="25.14" lengthAdjust="spacingAndGlyphs">Control</text>
<circle cx="396.90" cy="209.80" r="1.6" fill="#fff" stroke="#9e1236" stroke-width="1.1"/>
<text x="400.60" y="212.80" font-size="8.42" textLength="27.75" lengthAdjust="spacingAndGlyphs">Ibrutinib</text>
<text x="81.50" y="338.80" font-size="12.2" fill="#000" font-weight="bold">F</text>
<line x1="117.40" y1="358.30" x2="117.40" y2="434.50" stroke="#111" stroke-width="1.3"/>
<line x1="116.80" y1="433.90" x2="231.00" y2="433.90" stroke="#111" stroke-width="1.3"/>
<line x1="114.40" y1="433.90" x2="117.40" y2="433.90" stroke="#111" stroke-width="1.1"/>
<text x="111.80" y="436.60" font-size="8.64" text-anchor="end" textLength="4.45" lengthAdjust="spacingAndGlyphs">0</text>
<line x1="114.40" y1="416.20" x2="117.40" y2="416.20" stroke="#111" stroke-width="1.1"/>
<text x="111.80" y="418.90" font-size="8.64" text-anchor="end" textLength="8.9" lengthAdjust="spacingAndGlyphs">20</text>
<line x1="114.40" y1="398.40" x2="117.40" y2="398.40" stroke="#111" stroke-width="1.1"/>
<text x="111.80" y="401.10" font-size="8.64" text-anchor="end" textLength="8.9" lengthAdjust="spacingAndGlyphs">40</text>
<line x1="114.40" y1="380.60" x2="117.40" y2="380.60" stroke="#111" stroke-width="1.1"/>
<text x="111.80" y="383.30" font-size="8.64" text-anchor="end" textLength="8.9" lengthAdjust="spacingAndGlyphs">60</text>
<line x1="114.40" y1="362.80" x2="117.40" y2="362.80" stroke="#111" stroke-width="1.1"/>
<text x="111.80" y="365.50" font-size="8.64" text-anchor="end" textLength="8.9" lengthAdjust="spacingAndGlyphs">80</text>
<text x="96.90" y="396.60" font-size="9.07" text-anchor="middle" transform="rotate(-90 96.90 396.60)" textLength="99.0" lengthAdjust="spacingAndGlyphs">Migrated cells, % of input</text>
<line x1="130.50" y1="422.00" x2="130.50" y2="430.50" stroke="#1a1a1a" stroke-width="1.1"/>
<line x1="128.00" y1="422.00" x2="133.00" y2="422.00" stroke="#1a1a1a" stroke-width="1.1"/>
<line x1="128.00" y1="430.50" x2="133.00" y2="430.50" stroke="#1a1a1a" stroke-width="1.1"/>
<circle cx="126.10" cy="421.60" r="1.7" fill="#b5126a"/>
<circle cx="128.30" cy="421.30" r="1.7" fill="#b5126a"/>
<circle cx="130.50" cy="421.30" r="1.7" fill="#b5126a"/>
<circle cx="133.00" cy="421.60" r="1.7" fill="#b5126a"/>
<circle cx="134.60" cy="421.90" r="1.7" fill="#b5126a"/>
<circle cx="127.40" cy="424.00" r="1.7" fill="#b5126a"/>
<circle cx="130.50" cy="424.00" r="1.7" fill="#b5126a"/>
<circle cx="133.60" cy="424.00" r="1.7" fill="#b5126a"/>
<circle cx="126.10" cy="426.60" r="1.7" fill="#b5126a"/>
<circle cx="128.80" cy="426.60" r="1.7" fill="#b5126a"/>
<circle cx="131.60" cy="426.60" r="1.7" fill="#b5126a"/>
<circle cx="134.60" cy="426.90" r="1.7" fill="#b5126a"/>
<circle cx="130.50" cy="428.80" r="1.7" fill="#b5126a"/>
<circle cx="127.40" cy="432.50" r="1.7" fill="#b5126a"/>
<circle cx="130.50" cy="432.80" r="1.7" fill="#b5126a"/>
<circle cx="133.60" cy="432.50" r="1.7" fill="#b5126a"/>
<line x1="125.50" y1="425.80" x2="135.50" y2="425.80" stroke="#1a1a1a" stroke-width="1.2"/>
<line x1="146.00" y1="364.50" x2="146.00" y2="374.60" stroke="#1a1a1a" stroke-width="1.1"/>
<line x1="143.50" y1="364.50" x2="148.50" y2="364.50" stroke="#1a1a1a" stroke-width="1.1"/>
<line x1="143.50" y1="374.60" x2="148.50" y2="374.60" stroke="#1a1a1a" stroke-width="1.1"/>
<circle cx="147.90" cy="357.60" r="1.7" fill="#b5126a"/>
<circle cx="144.80" cy="359.50" r="1.7" fill="#b5126a"/>
<circle cx="147.40" cy="359.00" r="1.7" fill="#b5126a"/>
<circle cx="143.50" cy="365.80" r="1.7" fill="#b5126a"/>
<circle cx="145.40" cy="365.20" r="1.7" fill="#b5126a"/>
<circle cx="147.90" cy="367.70" r="1.7" fill="#b5126a"/>
<circle cx="146.70" cy="373.30" r="1.7" fill="#b5126a"/>
<circle cx="143.50" cy="377.00" r="1.7" fill="#b5126a"/>
<circle cx="146.00" cy="378.30" r="1.7" fill="#b5126a"/>
<circle cx="148.50" cy="376.40" r="1.7" fill="#b5126a"/>
<circle cx="144.80" cy="378.80" r="1.7" fill="#b5126a"/>
<line x1="141.40" y1="370.20" x2="150.60" y2="370.20" stroke="#1a1a1a" stroke-width="1.2"/>
<line x1="161.70" y1="385.20" x2="161.70" y2="400.20" stroke="#1a1a1a" stroke-width="1.1"/>
<line x1="159.20" y1="385.20" x2="164.20" y2="385.20" stroke="#1a1a1a" stroke-width="1.1"/>
<line x1="159.20" y1="400.20" x2="164.20" y2="400.20" stroke="#1a1a1a" stroke-width="1.1"/>
<path d="M159.91 374.91L163.48 374.91L161.70 371.69Z" fill="#b5126a"/>
<path d="M157.41 381.81L160.98 381.81L159.20 378.59Z" fill="#b5126a"/>
<path d="M162.41 381.81L165.98 381.81L164.20 378.59Z" fill="#b5126a"/>
<path d="M156.52 385.61L160.09 385.61L158.30 382.39Z" fill="#b5126a"/>
<path d="M159.91 386.41L163.48 386.41L161.70 383.19Z" fill="#b5126a"/>
<path d="M163.22 385.91L166.78 385.91L165.00 382.69Z" fill="#b5126a"/>
<path d="M156.52 401.81L160.09 401.81L158.30 398.59Z" fill="#b5126a"/>
<path d="M159.91 402.41L163.48 402.41L161.70 399.19Z" fill="#b5126a"/>
<path d="M162.91 401.81L166.48 401.81L164.70 398.59Z" fill="#b5126a"/>
<path d="M156.12 405.01L159.69 405.01L157.90 401.79Z" fill="#b5126a"/>
<path d="M159.22 404.61L162.78 404.61L161.00 401.39Z" fill="#b5126a"/>
<path d="M157.41 408.71L160.98 408.71L159.20 405.49Z" fill="#b5126a"/>
<path d="M162.41 409.41L165.98 409.41L164.20 406.19Z" fill="#b5126a"/>
<line x1="156.70" y1="392.70" x2="166.70" y2="392.70" stroke="#1a1a1a" stroke-width="1.2"/>
<line x1="187.60" y1="425.40" x2="187.60" y2="432.00" stroke="#1a1a1a" stroke-width="1.1"/>
<line x1="185.20" y1="425.40" x2="190.00" y2="425.40" stroke="#1a1a1a" stroke-width="1.1"/>
<line x1="185.20" y1="432.00" x2="190.00" y2="432.00" stroke="#1a1a1a" stroke-width="1.1"/>
<circle cx="184.00" cy="421.30" r="1.7" fill="#284380"/>
<circle cx="186.50" cy="421.00" r="1.7" fill="#284380"/>
<circle cx="189.00" cy="421.30" r="1.7" fill="#284380"/>
<circle cx="191.50" cy="421.00" r="1.7" fill="#284380"/>
<circle cx="184.50" cy="433.00" r="1.7" fill="#284380"/>
<circle cx="187.50" cy="433.30" r="1.7" fill="#284380"/>
<circle cx="190.50" cy="433.00" r="1.7" fill="#284380"/>
<line x1="182.80" y1="429.80" x2="192.40" y2="429.80" stroke="#1a1a1a" stroke-width="1.2"/>
<line x1="203.20" y1="418.50" x2="203.20" y2="431.00" stroke="#1a1a1a" stroke-width="1.1"/>
<line x1="200.80" y1="418.50" x2="205.60" y2="418.50" stroke="#1a1a1a" stroke-width="1.1"/>
<line x1="200.80" y1="431.00" x2="205.60" y2="431.00" stroke="#1a1a1a" stroke-width="1.1"/>
<circle cx="200.00" cy="412.20" r="1.7" fill="#284380"/>
<circle cx="202.60" cy="412.00" r="1.7" fill="#284380"/>
<circle cx="205.20" cy="412.20" r="1.7" fill="#284380"/>
<circle cx="207.00" cy="412.50" r="1.7" fill="#284380"/>
<circle cx="198.80" cy="425.80" r="1.7" fill="#284380"/>
<circle cx="201.40" cy="425.50" r="1.7" fill="#284380"/>
<circle cx="204.00" cy="425.80" r="1.7" fill="#284380"/>
<circle cx="206.60" cy="425.50" r="1.7" fill="#284380"/>
<circle cx="199.50" cy="433.00" r="1.7" fill="#284380"/>
<circle cx="202.50" cy="433.30" r="1.7" fill="#284380"/>
<circle cx="205.50" cy="433.00" r="1.7" fill="#284380"/>
<line x1="198.40" y1="428.60" x2="208.00" y2="428.60" stroke="#1a1a1a" stroke-width="1.2"/>
<line x1="218.40" y1="423.80" x2="218.40" y2="431.50" stroke="#1a1a1a" stroke-width="1.1"/>
<line x1="216.00" y1="423.80" x2="220.80" y2="423.80" stroke="#1a1a1a" stroke-width="1.1"/>
<line x1="216.00" y1="431.50" x2="220.80" y2="431.50" stroke="#1a1a1a" stroke-width="1.1"/>
<path d="M213.22 421.01L216.78 421.01L215.00 417.79Z" fill="#284380"/>
<path d="M216.62 421.41L220.19 421.41L218.40 418.19Z" fill="#284380"/>
<path d="M220.22 421.01L223.78 421.01L222.00 417.79Z" fill="#284380"/>
<path d="M213.41 432.81L216.98 432.81L215.20 429.59Z" fill="#284380"/>
<path d="M216.62 433.11L220.19 433.11L218.40 429.89Z" fill="#284380"/>
<path d="M219.81 432.81L223.38 432.81L221.60 429.59Z" fill="#284380"/>
<line x1="213.60" y1="428.10" x2="223.20" y2="428.10" stroke="#1a1a1a" stroke-width="1.2"/>
<line x1="129.30" y1="349.30" x2="145.30" y2="349.30" stroke="#111" stroke-width="1.3"/>
<circle cx="133.40" cy="343.80" r="1.05" fill="#111"/>
<circle cx="137.30" cy="343.80" r="1.05" fill="#111"/>
<circle cx="141.20" cy="343.80" r="1.05" fill="#111"/>
<line x1="147.70" y1="349.30" x2="163.50" y2="349.30" stroke="#111" stroke-width="1.3"/>
<circle cx="155.60" cy="343.80" r="1.05" fill="#111"/>
<line x1="185.80" y1="404.70" x2="201.70" y2="404.70" stroke="#111" stroke-width="1.3"/>
<circle cx="193.75" cy="399.20" r="1.05" fill="#111"/>
<line x1="204.20" y1="404.70" x2="220.00" y2="404.70" stroke="#111" stroke-width="1.3"/>
<circle cx="212.10" cy="399.20" r="1.05" fill="#111"/>
<text x="130.40" y="443.40" font-size="7.56" text-anchor="middle" textLength="2.33" lengthAdjust="spacingAndGlyphs">-</text>
<text x="145.80" y="444.50" font-size="7.56" text-anchor="middle" textLength="4.09" lengthAdjust="spacingAndGlyphs">+</text>
<text x="161.80" y="444.50" font-size="7.56" text-anchor="middle" textLength="4.09" lengthAdjust="spacingAndGlyphs">+</text>
<text x="186.40" y="443.40" font-size="7.56" text-anchor="middle" textLength="2.33" lengthAdjust="spacingAndGlyphs">-</text>
<text x="203.30" y="444.50" font-size="7.56" text-anchor="middle" textLength="4.09" lengthAdjust="spacingAndGlyphs">+</text>
<text x="219.00" y="444.50" font-size="7.56" text-anchor="middle" textLength="4.09" lengthAdjust="spacingAndGlyphs">+</text>
<text x="130.40" y="455.40" font-size="7.56" text-anchor="middle" textLength="2.33" lengthAdjust="spacingAndGlyphs">-</text>
<text x="145.80" y="455.40" font-size="7.56" text-anchor="middle" textLength="2.33" lengthAdjust="spacingAndGlyphs">-</text>
<text x="161.80" y="456.50" font-size="7.56" text-anchor="middle" textLength="4.09" lengthAdjust="spacingAndGlyphs">+</text>
<text x="186.40" y="455.40" font-size="7.56" text-anchor="middle" textLength="2.33" lengthAdjust="spacingAndGlyphs">-</text>
<text x="203.30" y="455.40" font-size="7.56" text-anchor="middle" textLength="2.33" lengthAdjust="spacingAndGlyphs">-</text>
<text x="219.00" y="456.50" font-size="7.56" text-anchor="middle" textLength="4.09" lengthAdjust="spacingAndGlyphs">+</text>
<text x="235.60" y="444.90" font-size="8.21" textLength="30.6" lengthAdjust="spacingAndGlyphs">CXCL12</text>
<text x="235.40" y="455.70" font-size="8.21" textLength="29.2" lengthAdjust="spacingAndGlyphs">Ibrutinib</text>
<text x="147.00" y="470.00" font-size="8.21" text-anchor="middle" textLength="16.05" lengthAdjust="spacingAndGlyphs">REH</text>
<text x="203.00" y="470.00" font-size="8.21" text-anchor="middle" textLength="34.62" lengthAdjust="spacingAndGlyphs">RCH-ACV</text>
<text x="281.80" y="338.70" font-size="12.2" fill="#000" font-weight="bold">G</text>
<line x1="319.70" y1="350.80" x2="319.70" y2="434.70" stroke="#111" stroke-width="1.3"/>
<line x1="319.10" y1="434.10" x2="438.20" y2="434.10" stroke="#111" stroke-width="1.3"/>
<line x1="316.70" y1="434.10" x2="319.70" y2="434.10" stroke="#111" stroke-width="1.1"/>
<text x="314.10" y="436.80" font-size="8.64" text-anchor="end" textLength="4.45" lengthAdjust="spacingAndGlyphs">0</text>
<line x1="316.70" y1="414.40" x2="319.70" y2="414.40" stroke="#111" stroke-width="1.1"/>
<text x="314.10" y="417.10" font-size="8.64" text-anchor="end" textLength="4.45" lengthAdjust="spacingAndGlyphs">5</text>
<line x1="316.70" y1="394.60" x2="319.70" y2="394.60" stroke="#111" stroke-width="1.1"/>
<text x="314.10" y="397.30" font-size="8.64" text-anchor="end" textLength="8.9" lengthAdjust="spacingAndGlyphs">10</text>
<line x1="316.70" y1="374.70" x2="319.70" y2="374.70" stroke="#111" stroke-width="1.1"/>
<text x="314.10" y="377.40" font-size="8.64" text-anchor="end" textLength="8.9" lengthAdjust="spacingAndGlyphs">15</text>
<line x1="316.70" y1="354.70" x2="319.70" y2="354.70" stroke="#111" stroke-width="1.1"/>
<text x="314.10" y="357.40" font-size="8.64" text-anchor="end" textLength="8.9" lengthAdjust="spacingAndGlyphs">20</text>
<text x="299.00" y="397.30" font-size="9.07" text-anchor="middle" transform="rotate(-90 299.00 397.30)" textLength="99.0" lengthAdjust="spacingAndGlyphs">Migrated cells, % of input</text>
<line x1="338.70" y1="363.00" x2="338.70" y2="391.80" stroke="#1a1a1a" stroke-width="1.1"/>
<line x1="334.70" y1="363.00" x2="342.70" y2="363.00" stroke="#1a1a1a" stroke-width="1.1"/>
<line x1="334.70" y1="391.80" x2="342.70" y2="391.80" stroke="#1a1a1a" stroke-width="1.1"/>
<circle cx="338.70" cy="358.30" r="1.6" fill="#284380"/>
<circle cx="338.70" cy="370.80" r="1.6" fill="#284380"/>
<circle cx="338.70" cy="372.50" r="1.6" fill="#284380"/>
<circle cx="338.70" cy="391.70" r="1.6" fill="#284380"/>
<circle cx="338.70" cy="396.50" r="1.6" fill="#284380"/>
<line x1="331.70" y1="377.60" x2="345.70" y2="377.60" stroke="#1a1a1a" stroke-width="1.2"/>
<line x1="360.80" y1="367.30" x2="360.80" y2="400.50" stroke="#1a1a1a" stroke-width="1.1"/>
<line x1="356.80" y1="367.30" x2="364.80" y2="367.30" stroke="#1a1a1a" stroke-width="1.1"/>
<line x1="356.80" y1="400.50" x2="364.80" y2="400.50" stroke="#1a1a1a" stroke-width="1.1"/>
<circle cx="360.80" cy="369.00" r="1.6" fill="#9e1236"/>
<circle cx="360.80" cy="371.50" r="1.6" fill="#9e1236"/>
<circle cx="360.80" cy="373.50" r="1.6" fill="#9e1236"/>
<circle cx="360.80" cy="399.60" r="1.6" fill="#9e1236"/>
<circle cx="360.80" cy="401.00" r="1.6" fill="#9e1236"/>
<circle cx="360.80" cy="366.40" r="1.52" fill="#fff" stroke="#9e1236" stroke-width="1.1"/>
<circle cx="360.80" cy="403.40" r="1.52" fill="#fff" stroke="#9e1236" stroke-width="1.1"/>
<circle cx="360.80" cy="407.00" r="1.52" fill="#fff" stroke="#9e1236" stroke-width="1.1"/>
<line x1="353.80" y1="384.20" x2="367.80" y2="384.20" stroke="#1a1a1a" stroke-width="1.2"/>
<line x1="397.80" y1="373.50" x2="397.80" y2="402.40" stroke="#1a1a1a" stroke-width="1.1"/>
<line x1="393.80" y1="373.50" x2="401.80" y2="373.50" stroke="#1a1a1a" stroke-width="1.1"/>
<line x1="393.80" y1="402.40" x2="401.80" y2="402.40" stroke="#1a1a1a" stroke-width="1.1"/>
<circle cx="397.80" cy="373.50" r="1.6" fill="#284380"/>
<circle cx="397.80" cy="375.50" r="1.6" fill="#284380"/>
<circle cx="397.80" cy="395.40" r="1.6" fill="#284380"/>
<circle cx="397.80" cy="402.40" r="1.6" fill="#284380"/>
<line x1="390.80" y1="388.00" x2="404.80" y2="388.00" stroke="#1a1a1a" stroke-width="1.2"/>
<line x1="420.20" y1="409.40" x2="420.20" y2="420.00" stroke="#1a1a1a" stroke-width="1.1"/>
<line x1="416.20" y1="409.40" x2="424.20" y2="409.40" stroke="#1a1a1a" stroke-width="1.1"/>
<line x1="416.20" y1="420.00" x2="424.20" y2="420.00" stroke="#1a1a1a" stroke-width="1.1"/>
<circle cx="420.20" cy="411.50" r="1.6" fill="#9e1236"/>
<circle cx="420.20" cy="414.00" r="1.6" fill="#9e1236"/>
<circle cx="420.20" cy="416.50" r="1.6" fill="#9e1236"/>
<circle cx="420.20" cy="419.00" r="1.6" fill="#9e1236"/>
<circle cx="420.20" cy="408.50" r="1.52" fill="#fff" stroke="#9e1236" stroke-width="1.1"/>
<circle cx="420.20" cy="421.60" r="1.52" fill="#fff" stroke="#9e1236" stroke-width="1.1"/>
<line x1="413.20" y1="415.00" x2="427.20" y2="415.00" stroke="#1a1a1a" stroke-width="1.2"/>
<line x1="337.70" y1="352.90" x2="361.30" y2="352.90" stroke="#111" stroke-width="1.3"/>
<text x="349.50" y="350.70" font-size="7.56" text-anchor="middle" textLength="7.39" lengthAdjust="spacingAndGlyphs">ns</text>
<line x1="398.90" y1="366.60" x2="421.30" y2="366.60" stroke="#111" stroke-width="1.3"/>
<circle cx="408.15" cy="361.10" r="1.05" fill="#111"/>
<circle cx="412.05" cy="361.10" r="1.05" fill="#111"/>
<circle cx="326.60" cy="415.80" r="1.6" fill="#284380"/>
<text x="330.80" y="418.90" font-size="8.42" textLength="25.14" lengthAdjust="spacingAndGlyphs">Control</text>
<circle cx="326.60" cy="425.90" r="1.6" fill="#fff" stroke="#9e1236" stroke-width="1.1"/>
<text x="330.80" y="428.90" font-size="8.42" textLength="27.75" lengthAdjust="spacingAndGlyphs">Ibrutinib</text>
<text x="350.60" y="446.40" font-size="8.42" text-anchor="middle" textLength="16.47" lengthAdjust="spacingAndGlyphs">REH</text>
<text x="407.90" y="446.40" font-size="8.42" text-anchor="middle" textLength="35.53" lengthAdjust="spacingAndGlyphs">RCH-ACV</text>
</svg>
</body></html>
